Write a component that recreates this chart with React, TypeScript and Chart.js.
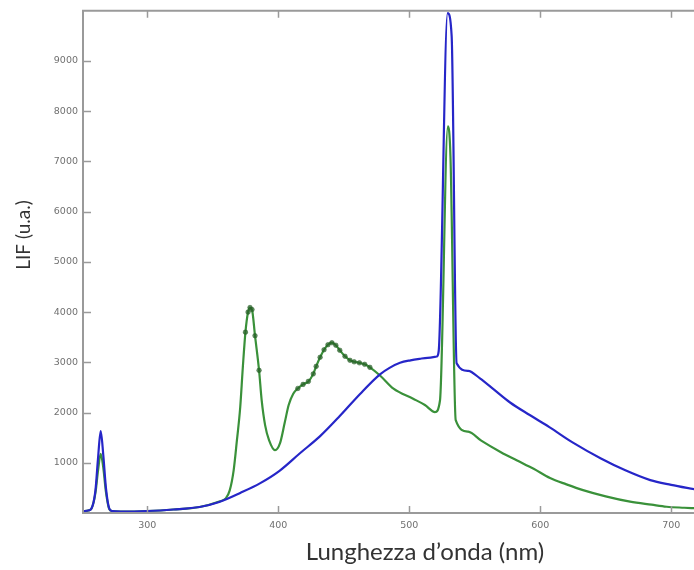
import React, { useEffect, useRef } from "react";
import { Chart, registerables } from "chart.js";

Chart.register(...registerables);

// ---- data ----
const blueX = [251, 255, 257.5, 260.5, 262.5, 264.5, 266.5, 268.5, 271, 273, 280, 300, 320, 340, 355, 371, 386, 401, 416.6, 432, 447, 462.5, 477.7, 485, 493, 501, 508, 514, 521, 522.5, 529.3, 532.4, 536.2, 545, 554, 565, 577, 592, 607, 625, 646, 665, 684, 700, 718];
const blueY = [30, 50, 90, 450, 1100, 1630, 1150, 500, 90, 40, 30, 40, 70, 120, 220, 400, 590, 840, 1190, 1530, 1930, 2370, 2760, 2890, 2990, 3040, 3070, 3090, 3115, 3220, 9950, 9500, 2980, 2830, 2680, 2450, 2200, 1950, 1710, 1400, 1090, 850, 655, 560, 470];

const greenX = [251, 255, 257.5, 260.5, 262.5, 264.5, 266.5, 268.5, 271, 273, 280, 300, 320, 340, 355, 360, 363, 366, 368.5, 371, 373, 375, 377, 378.5, 380, 382.3, 385.4, 387.4, 390, 393, 397.6, 401.4, 405, 408, 411.5, 415, 419, 423, 426.8, 429, 432, 435, 438, 441, 444, 447, 451, 454.8, 458, 462, 466, 470, 477.7, 488, 503, 512, 519.7, 523.5, 529.5, 531.5, 535.5, 545, 555, 570, 582, 595, 607.5, 620, 632.7, 650, 668.6, 685, 696.5, 710, 718];
const greenY = [30, 50, 90, 400, 850, 1180, 900, 420, 80, 40, 30, 40, 70, 120, 230, 290, 450, 850, 1450, 2100, 2900, 3600, 4000, 4090, 4050, 3530, 2840, 2240, 1750, 1450, 1250, 1390, 1800, 2150, 2375, 2480, 2560, 2620, 2770, 2920, 3100, 3250, 3350, 3390, 3340, 3240, 3120, 3040, 3010, 2990, 2960, 2900, 2738, 2474, 2275, 2150, 2010, 2240, 7700, 7100, 1850, 1620, 1440, 1210, 1050, 880, 695, 570, 455, 330, 225, 165, 125, 105, 95];

// wavelength ranges where the green trace carries markers
const greenMarkerRanges: [number, number][] = [[375, 386], [412, 470]];

const xTicks = [300, 400, 500, 600, 700];
const yTicks = [1000, 2000, 3000, 4000, 5000, 6000, 7000, 8000, 9000];
const xMin = 251;
const xMax = 717.4;
const yMin = 0;
const yMax = 10000;

const xTitle = "Lunghezza d\u2019onda (nm)";
const yTitle = "LIF (u.a.)";

const AXIS_COLOR = "#9a9a9a";
const TICK_LABEL_COLOR = "#707070";

const framePlugin = {
  id: "frame",
  afterDatasetsDraw(chart: any) {
    const { ctx, chartArea } = chart;
    const { left, right, top, bottom } = chartArea;
    const xs = chart.scales.x;
    const ys = chart.scales.y;
    ctx.save();
    ctx.strokeStyle = AXIS_COLOR;
    ctx.lineWidth = 2;
    ctx.beginPath();
    ctx.moveTo(left, top);
    ctx.lineTo(left, bottom);
    ctx.moveTo(left - 1, bottom);
    ctx.lineTo(right, bottom);
    ctx.moveTo(left - 1, top);
    ctx.lineTo(right, top);
    ctx.stroke();
    ctx.lineWidth = 1.5;
    ctx.beginPath();
    xTicks.forEach((v) => {
      const px = Math.round(xs.getPixelForValue(v)) + 0.5;
      ctx.moveTo(px, bottom);
      ctx.lineTo(px, bottom - 7);
      ctx.moveTo(px, top);
      ctx.lineTo(px, top + 7);
    });
    yTicks.forEach((v) => {
      const py = Math.round(ys.getPixelForValue(v)) + 0.5;
      ctx.moveTo(left, py);
      ctx.lineTo(left + 8, py);
    });
    ctx.stroke();
    ctx.restore();
  },
  afterDraw(chart: any) {
    const { ctx } = chart;
    ctx.save();
    ctx.fillStyle = "#333333";
    ctx.textAlign = "center";
    ctx.textBaseline = "middle";
    ctx.font = "24px Lato";
    ctx.fillText(xTitle, 425, 552);
    ctx.translate(24, 235);
    ctx.rotate(-Math.PI / 2);
    ctx.font = "19px Lato";
    ctx.fillText(yTitle, 0, 0);
    ctx.restore();
  },
};

export default function App() {
  const canvasRef = useRef<HTMLCanvasElement | null>(null);

  useEffect(() => {
    if (!canvasRef.current) return;
    const inMarkerRange = (x: number) =>
      greenMarkerRanges.some(([a, b]) => x >= a && x <= b);
    const chart = new Chart(canvasRef.current, {
      type: "line",
      data: {
        datasets: [
          {
            label: "blue",
            data: blueX.map((x, i) => ({ x, y: blueY[i] })),
            borderColor: "#2626c8",
            borderWidth: 2.2,
            pointRadius: 0,
            cubicInterpolationMode: "monotone",
            fill: false,
          },
          {
            label: "green",
            data: greenX.map((x, i) => ({ x, y: greenY[i] })),
            borderColor: "#3a913a",
            borderWidth: 2.2,
            pointRadius: (c: any) => (c.raw && inMarkerRange(c.raw.x) ? 2.3 : 0),
            pointBackgroundColor: "rgba(40,95,40,0.7)",
            pointBorderColor: "rgba(40,95,40,0.5)",
            pointBorderWidth: 1,
            cubicInterpolationMode: "monotone",
            fill: false,
          },
        ],
      },
      options: {
        animation: false,
        responsive: false,
        maintainAspectRatio: false,
        layout: { padding: { left: 0, right: 0, top: 9, bottom: 0 } },
        plugins: {
          legend: { display: false },
          tooltip: { enabled: false },
          title: { display: false },
        },
        scales: {
          x: {
            type: "linear",
            min: xMin,
            max: xMax,
            grid: { display: false, drawTicks: false },
            border: { display: false },
            afterFit: (s: any) => {
              s.height = 57;
            },
            afterBuildTicks: (s: any) => {
              s.ticks = xTicks.map((v) => ({ value: v }));
            },
            ticks: {
              padding: 7,
              color: TICK_LABEL_COLOR,
              font: { family: "DejaVu Sans", size: 9.5 },
              maxRotation: 0,
              callback: (v: any) => String(v),
            },
          },
          y: {
            type: "linear",
            min: yMin,
            max: yMax,
            grid: { display: false, drawTicks: false },
            border: { display: false },
            afterFit: (s: any) => {
              s.width = 83;
            },
            afterBuildTicks: (s: any) => {
              s.ticks = yTicks.map((v) => ({ value: v }));
            },
            ticks: {
              padding: 5,
              color: TICK_LABEL_COLOR,
              font: { family: "DejaVu Sans", size: 9.5 },
              callback: (v: any) => String(v),
            },
          },
        },
      },
      plugins: [framePlugin],
    } as any);
    return () => chart.destroy();
  }, []);

  return (
    <div style={{ position: "absolute", left: 0, top: 0, width: 694, height: 570, background: "#fff" }}>
      <canvas ref={canvasRef} width={694} height={570} style={{ display: "block" }} />
    </div>
  );
}
